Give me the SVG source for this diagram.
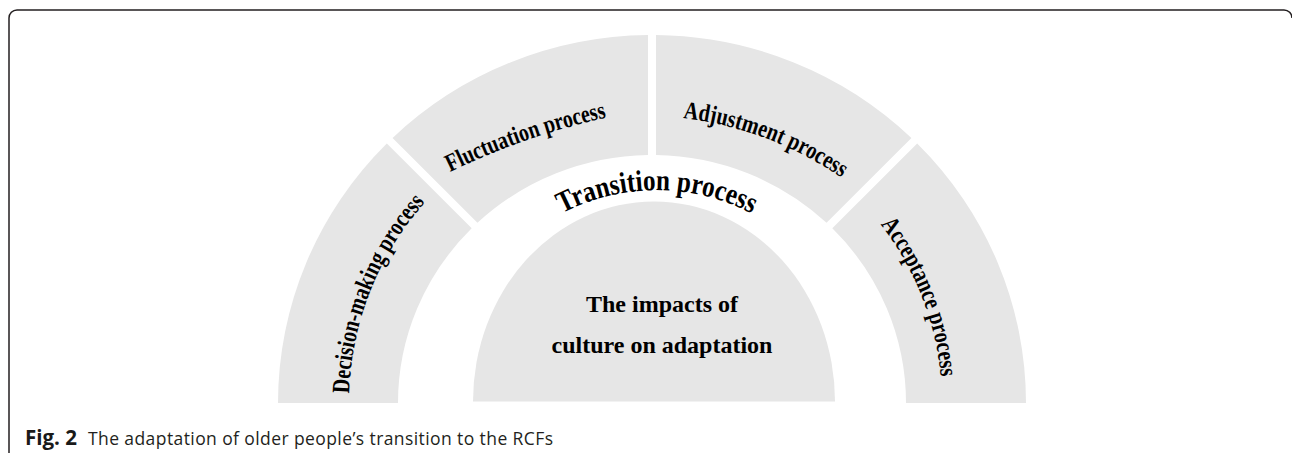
<svg xmlns="http://www.w3.org/2000/svg" width="1292" height="453" viewBox="0 0 1292 453">
  <defs>
    <style>
      .seg { fill: #e6e6e6; stroke: none; }
      .lbl { font-family: "Liberation Serif", "Times New Roman", serif; font-weight: bold; font-size: 25px; fill: #000; }
      .big { font-family: "Liberation Serif", "Times New Roman", serif; font-weight: bold; font-size: 24px; fill: #000; }
      .arch { font-family: "Liberation Serif", "Times New Roman", serif; font-weight: bold; font-size: 30px; fill: #000; }
      .cap { font-family: "Open Sans", "Liberation Sans", sans-serif; font-size: 17.5px; fill: #231f20; }
      .capb { font-family: "Open Sans", "Liberation Sans", sans-serif; font-size: 20.5px; font-weight: bold; fill: #1a1a1a; }
      .frame { fill: none; stroke: #231f20; stroke-width: 1.5; }
    </style>
    <path id="p-dec" d="M 349.15 393.48 A 303 303 0 0 1 425.4 201.8"/>
    <path id="p-flu" d="M 450 172 A 700 700 0 0 1 607 117.5"/>
    <path id="p-adj" d="M 683 118 A 358 358 0 0 1 842 178"/>
    <path id="p-acc" d="M 880.5 224.4 A 290 290 0 0 1 940.9 377.7"/>
    <path id="p-tra" d="M 562 213.3 A 205 205 0 0 1 752 213.7"/>
  </defs>
  <rect width="1292" height="453" fill="#ffffff"/>
  <path class="frame" d="M 9 453 V 18 A 8 8 0 0 1 17 10 H 1284 A 8 8 0 0 1 1292 18"/>

  <g id="decision-making">
    <path class="seg" d="M 278 403 A 374 368 0 0 1 386.83 143.49 L 471.68 228.34 A 254 248 0 0 0 398 403 Z"/>
    <text class="lbl"><textPath href="#p-dec" textLength="210" lengthAdjust="spacingAndGlyphs">Decision-making process</textPath></text>
  </g>
  <g id="fluctuation">
    <path class="seg" d="M 392.58 137.92 A 374 368 0 0 1 648 35.02 L 648 155.03 A 254 248 0 0 0 477.47 222.82 Z"/>
    <text class="lbl"><textPath href="#p-flu" textLength="166" lengthAdjust="spacingAndGlyphs">Fluctuation process</textPath></text>
  </g>
  <g id="adjustment">
    <path class="seg" d="M 656 35.02 A 374 368 0 0 1 911.42 137.92 L 826.53 222.82 A 254 248 0 0 0 656 155.03 Z"/>
    <text class="lbl"><textPath href="#p-adj" textLength="171" lengthAdjust="spacingAndGlyphs">Adjustment process</textPath></text>
  </g>
  <g id="acceptance">
    <path class="seg" d="M 917.17 143.49 A 374 368 0 0 1 1026 403 L 906 403 A 254 248 0 0 0 832.32 228.34 Z"/>
    <text class="lbl"><textPath href="#p-acc" textLength="166" lengthAdjust="spacingAndGlyphs">Acceptance process</textPath></text>
  </g>
  <g id="transition">
    <text class="arch"><textPath href="#p-tra" textLength="197" lengthAdjust="spacingAndGlyphs">Transition process</textPath></text>
  </g>
  <g id="culture">
    <path class="seg" d="M 473 401.5 A 181 200 0 0 1 835 401.5 Z"/>
    <text class="big" x="662" y="312" text-anchor="middle">The impacts of</text>
    <text class="big" x="662" y="353" text-anchor="middle">culture on adaptation</text>
  </g>
  <g id="connectors"></g>

  <text class="capb" x="25" y="445">Fig. 2</text>
  <text class="cap" x="88" y="445" textLength="465" lengthAdjust="spacing">The adaptation of older people’s transition to the RCFs</text>
</svg>
